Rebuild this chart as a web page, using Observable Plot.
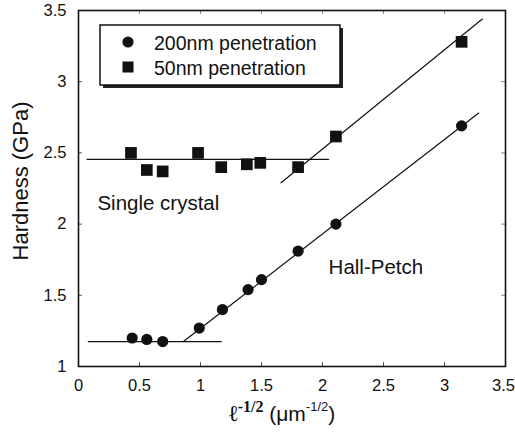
<!DOCTYPE html>
<html><head><meta charset="utf-8">
<script src="https://cdn.jsdelivr.net/npm/d3@7"></script>
<script src="https://cdn.jsdelivr.net/npm/@observablehq/plot@0.6"></script>
<style>body{margin:0;background:#fff} #chart{width:515px;height:432px}</style>
</head><body><div id="chart"></div>
<script>
// 200 nm penetration (circles)
const x200 = [0.44, 0.56, 0.69, 0.99, 1.18, 1.39, 1.50, 1.80, 2.11, 3.14];
const y200 = [1.20, 1.19, 1.175, 1.27, 1.40, 1.54, 1.61, 1.81, 2.00, 2.69];
// 50 nm penetration (squares)
const x50 = [0.43, 0.56, 0.69, 0.98, 1.17, 1.38, 1.49, 1.80, 2.11, 3.14];
const y50 = [2.50, 2.38, 2.37, 2.50, 2.40, 2.42, 2.43, 2.40, 2.615, 3.28];
// fitted lines (endpoints)
const plateau200X = [0.08, 1.17], plateau200Y = [1.175, 1.175];
const hallPetch200X = [0.86, 3.28], hallPetch200Y = [1.175, 2.78];
const plateau50X = [0.07, 2.05], plateau50Y = [2.455, 2.455];
const hallPetch50X = [1.66, 3.31], hallPetch50Y = [2.29, 3.44];
// ticks
const xTicks = [0, 0.5, 1, 1.5, 2, 2.5, 3, 3.5];
const xTickLabels = ["0", "0.5", "1", "1.5", "2", "2.5", "3", "3.5"];
const yTicks = [1, 1.5, 2, 2.5, 3, 3.5];
const yTickLabels = ["1", "1.5", "2", "2.5", "3", "3.5"];
// annotations
const annoText = ["Single crystal", "Hall-Petch"];
const annoX = [0.155, 2.05];
const annoY = [2.145, 1.695];
// legend
const legendLabels = ["200nm penetration", "50nm penetration"];
const yTitle = "Hardness (GPa)";

const W = 515, H = 432, mL = 78, mR = 10, mT = 10, mB = 66;
const innerW = W - mL - mR, innerH = H - mT - mB;
const sans = "'Liberation Sans', Arial, Helvetica, sans-serif";
const ink = "#111";
const fmtX = d => xTickLabels[xTicks.indexOf(d)];

const chart = Plot.plot({
  width: W, height: H,
  marginLeft: mL, marginRight: mR, marginTop: mT, marginBottom: mB,
  x: {domain: [0, 3.5]},
  y: {domain: [1, 3.5]},
  style: {fontFamily: sans, background: "#fff", color: ink},
  marks: [
    Plot.axisX({ticks: xTicks.slice(0, -1), tickFormat: fmtX, tickSize: 0, tickPadding: 13, fontSize: 16.5, label: null, fill: ink}),
    Plot.axisX({ticks: xTicks.slice(-1), tickFormat: fmtX, tickSize: 0, tickPadding: 13, fontSize: 16.5, label: null, fill: ink, dx: -2}),
    Plot.axisY({ticks: yTicks, tickFormat: (d) => yTickLabels[yTicks.indexOf(d)], tickSize: 0, tickPadding: 12, fontSize: 16.5, label: null, fill: ink}),
    // inward tick marks on all four sides
    Plot.ruleX(xTicks, {x: d => d, insetTop: innerH - 4, stroke: "#555", strokeWidth: 1}),
    Plot.ruleX(xTicks, {x: d => d, insetBottom: innerH - 4, stroke: "#888", strokeWidth: 1}),
    Plot.ruleY(yTicks, {y: d => d, insetRight: innerW - 4, stroke: "#555", strokeWidth: 1}),
    Plot.ruleY(yTicks, {y: d => d, insetLeft: innerW - 4, stroke: "#888", strokeWidth: 1}),
    Plot.frame({stroke: ink, strokeWidth: 1.6}),
    Plot.line(plateau200X, {x: plateau200X, y: plateau200Y, stroke: ink, strokeWidth: 1.2}),
    Plot.line(hallPetch200X, {x: hallPetch200X, y: hallPetch200Y, stroke: ink, strokeWidth: 1.2}),
    Plot.line(plateau50X, {x: plateau50X, y: plateau50Y, stroke: ink, strokeWidth: 1.2}),
    Plot.line(hallPetch50X, {x: hallPetch50X, y: hallPetch50Y, stroke: ink, strokeWidth: 1.2}),
    Plot.dot(y200, {x: x200, y: y200, r: 5.6, fill: ink, symbol: "circle"}),
    Plot.dot(y50, {x: x50, y: y50, r: 6.6, fill: ink, symbol: "square"}),
    Plot.text(annoText, {x: annoX, y: annoY, text: annoText, textAnchor: "start", fontSize: 20.5, fill: ink})
  ]
});
document.getElementById("chart").appendChild(chart);

const svg = d3.select(chart);
// legend box with drop shadow
const lg = svg.append("g").attr("text-anchor", "start");
lg.append("rect").attr("x", 103).attr("y", 28).attr("width", 240).attr("height", 60).attr("fill", "#222");
lg.append("rect").attr("x", 100).attr("y", 25).attr("width", 240).attr("height", 60).attr("fill", "#fff").attr("stroke", ink).attr("stroke-width", 1.5);
lg.append("circle").attr("cx", 128).attr("cy", 42).attr("r", 5.6).attr("fill", ink);
lg.append("rect").attr("x", 122.5).attr("y", 61.5).attr("width", 11).attr("height", 11).attr("fill", ink);
lg.selectAll("text.l").data(legendLabels).join("text")
  .attr("x", 154).attr("y", (d, i) => 49.5 + i * 25).attr("text-anchor", "start")
  .attr("font-family", sans).attr("font-size", 19.5).attr("fill", ink).text(d => d);

// y axis title
svg.append("text").attr("transform", "translate(28,181) rotate(-90)")
  .attr("text-anchor", "middle").attr("font-family", sans).attr("font-size", 22).attr("fill", ink)
  .text(yTitle);

// x axis title: ℓ^-1/2 (μm^-1/2)
const xt = svg.append("text").attr("x", 229).attr("y", 421).attr("text-anchor", "start").attr("fill", ink);
xt.append("tspan").attr("font-family", "'DejaVu Serif', 'Liberation Serif', serif").attr("font-weight", "bold").attr("font-size", 23).text("ℓ");
xt.append("tspan").attr("font-family", "'Liberation Serif', serif").attr("font-weight", "bold").attr("font-size", 16).attr("dy", -9).text("-1/2");
xt.append("tspan").attr("font-family", sans).attr("font-size", 21).attr("dy", 9).text(" (μm");
xt.append("tspan").attr("font-family", sans).attr("font-size", 13).attr("dy", -10).text("-1/2");
xt.append("tspan").attr("font-family", sans).attr("font-size", 21).attr("dy", 10).text(")");
</script>
</body></html>
